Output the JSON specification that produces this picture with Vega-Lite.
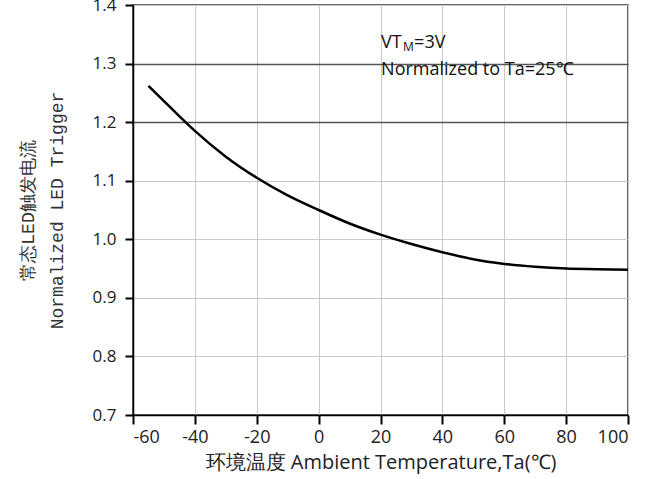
{
  "$schema": "https://vega.github.io/schema/vega-lite/v6.json",
  "width": 495,
  "height": 410,
  "autosize": "none",
  "padding": {"left": 133, "top": 5, "right": 28, "bottom": 64},
  "background": "white",
  "config": {
    "view": {"stroke": "#333", "strokeWidth": 1.5},
    "font": "Open Sans"
  },
  "datasets": {
    "curve": [
      {"t": -55, "v": 1.262},
      {"t": -50, "v": 1.236},
      {"t": -45, "v": 1.21},
      {"t": -40, "v": 1.185},
      {"t": -30, "v": 1.141},
      {"t": -20, "v": 1.105},
      {"t": -10, "v": 1.075},
      {"t": 0, "v": 1.05},
      {"t": 10, "v": 1.027},
      {"t": 20, "v": 1.008},
      {"t": 30, "v": 0.992},
      {"t": 40, "v": 0.978},
      {"t": 50, "v": 0.966},
      {"t": 60, "v": 0.958},
      {"t": 70, "v": 0.953},
      {"t": 80, "v": 0.950},
      {"t": 90, "v": 0.949},
      {"t": 100, "v": 0.948}
    ],
    "notes": [
      {"t": 20.2, "v": 1.327, "label": "VT", "part": "main"},
      {"t": 20.2, "v": 1.327, "label": "M", "part": "sub"},
      {"t": 20.2, "v": 1.327, "label": "=3V", "part": "after"},
      {"t": 20.2, "v": 1.281, "label": "Normalized to Ta=25℃", "part": "main"}
    ]
  },
  "layer": [
    {
      "data": {"name": "curve"},
      "mark": {"type": "line", "color": "black", "strokeWidth": 2.5, "interpolate": "monotone"},
      "encoding": {
        "x": {
          "field": "t", "type": "quantitative",
          "scale": {"domain": [-60, 100], "nice": false, "zero": false},
          "axis": {
            "values": [-60, -40, -20, 0, 20, 40, 60, 80, 100],
            "labelExpr": "'' + datum.value",
            "title": "环境温度 Ambient Temperature,Ta(℃)",
            "titleFont": "Open Sans",
            "titleFontSize": 20,
            "titleFontWeight": "normal",
            "titleColor": "#222",
            "titlePadding": 6,
            "labelFontSize": 18,
            "labelColor": "#222",
            "labelPadding": 4,
            "tickSize": 9,
            "tickColor": "black",
            "tickWidth": 2,
            "domainColor": "black",
            "domainWidth": 1.5,
            "grid": true,
            "gridColor": "#c8c8c8",
            "gridWidth": 1
          }
        },
        "y": {
          "field": "v", "type": "quantitative",
          "scale": {"domain": [0.7, 1.4], "nice": false, "zero": false},
          "axis": {
            "values": [0.7, 0.8, 0.9, 1.0, 1.1, 1.2, 1.3, 1.4],
            "format": ".1f",
            "title": ["常态LED触发电流", "Normalized LED Trigger"],
            "titleFont": "Liberation Mono",
            "titleFontSize": 18,
            "titleFontWeight": "normal",
            "titleColor": "#333",
            "titleLineHeight": 29,
            "titlePadding": 26,
            "labelFontSize": 17,
            "labelColor": "#222",
            "labelPadding": 9,
            "tickSize": 8,
            "tickColor": "black",
            "tickWidth": 2,
            "domainColor": "black",
            "domainWidth": 1.5,
            "grid": true,
            "gridColor": {"condition": {"test": "abs(datum.value - 1.25) < 0.07", "value": "#555"}, "value": "#c8c8c8"},
            "gridWidth": {"condition": {"test": "abs(datum.value - 1.25) < 0.07", "value": 1.5}, "value": 1}
          }
        }
      }
    },
    {
      "data": {"name": "notes"},
      "transform": [{"filter": "datum.part === 'main'"}],
      "mark": {"type": "text", "align": "left", "baseline": "alphabetic", "fontSize": 18, "color": "#111", "font": "Open Sans"},
      "encoding": {
        "x": {"field": "t", "type": "quantitative"},
        "y": {"field": "v", "type": "quantitative"},
        "text": {"field": "label"}
      }
    },
    {
      "data": {"name": "notes"},
      "transform": [{"filter": "datum.part === 'sub'"}],
      "mark": {"type": "text", "align": "left", "baseline": "alphabetic", "fontSize": 12, "dx": 22, "dy": 3, "color": "#111", "font": "Open Sans"},
      "encoding": {
        "x": {"field": "t", "type": "quantitative"},
        "y": {"field": "v", "type": "quantitative"},
        "text": {"field": "label"}
      }
    },
    {
      "data": {"name": "notes"},
      "transform": [{"filter": "datum.part === 'after'"}],
      "mark": {"type": "text", "align": "left", "baseline": "alphabetic", "fontSize": 18, "dx": 33, "color": "#111", "font": "Open Sans"},
      "encoding": {
        "x": {"field": "t", "type": "quantitative"},
        "y": {"field": "v", "type": "quantitative"},
        "text": {"field": "label"}
      }
    }
  ]
}
